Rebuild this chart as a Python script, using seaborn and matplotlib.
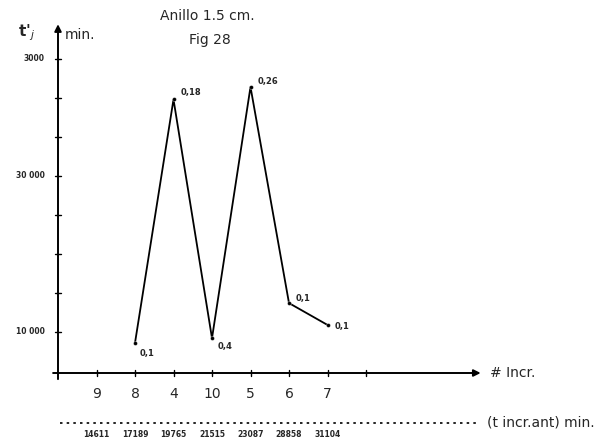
import numpy as np
import pandas as pd
import seaborn as sns
import matplotlib.pyplot as plt

# increment numbers along the x axis, in drawn order
incr_labels = ['9', '8', '4', '10', '5', '6', '7']
# cumulative time of the previous increment (min), second scale under the axis
t_prev_labels = ['14611', '17189', '19765', '21515', '23087', '28858', '31104']

# plotted increments and their t'j values (min)
pts_incr = ['8', '4', '10', '5', '6', '7']
pts_tj = [9300, 24900, 9600, 25700, 11850, 10450]
pts_notes = ['0,1', '0,18', '0,4', '0,26', '0,1', '0,1']

# y ticks as hand drawn
ytick_vals = [10000, 20000, 27500]
ytick_text = ['10 000', '30 000', '3000']

sns.set_style('white')
plt.rcParams['font.family'] = ['DejaVu Sans']

fig = plt.figure(figsize=(6.06, 4.45), dpi=100)
ax = fig.add_axes([58 / 606, 72 / 445, 423.5 / 606, 350 / 445])

pos = {lab: i + 1 for i, lab in enumerate(incr_labels)}
df = pd.DataFrame({'x': [pos[p] for p in pts_incr], 'tj': pts_tj})

sns.lineplot(data=df, x='x', y='tj', sort=False, color='black', lw=1.3, ax=ax)
sns.scatterplot(data=df, x='x', y='tj', color='black', s=8, ax=ax, zorder=3)

offs = [(3, -8), (5, 5), (4, -6), (5, 4), (5, 3), (5, -1)]
for (xx, yy), note, o in zip(zip(df['x'], df['tj']), pts_notes, offs):
    ax.annotate(note, (xx, yy), xytext=o, textcoords='offset points',
                fontsize=6, fontweight='bold', va='center', ha='left')

ax.set_xlim(0, 11)
ax.set_ylim(7370, 29800)
for s in ax.spines.values():
    s.set_visible(False)
ax.set_xlabel('')
ax.set_ylabel('')
ax.set_xticks([])
ax.set_yticks([])

# hand style axes with arrows
ax.annotate('', xy=(11.05, 7370), xytext=(-0.2, 7370), xycoords='data',
            arrowprops=dict(arrowstyle='-|>', color='black', lw=1.4), annotation_clip=False)
ax.annotate('', xy=(0, 29900), xytext=(0, 6800), xycoords='data',
            arrowprops=dict(arrowstyle='-|>', color='black', lw=1.4), annotation_clip=False)

# tick marks and labels on x
for i, lab in enumerate(incr_labels):
    ax.plot([i + 1, i + 1], [7170, 7570], color='black', lw=1, clip_on=False)
    ax.text(i + 1, 6000, lab, ha='center', va='center', fontsize=10)
ax.plot([8, 8], [7170, 7570], color='black', lw=1, clip_on=False)

# tick marks on y every 2500, labels as drawn
for v in np.arange(10000, 30000, 2500):
    ax.plot([-0.07, 0.07], [v, v], color='black', lw=1, clip_on=False)
for v, t in zip(ytick_vals, ytick_text):
    ax.text(-0.35, v, t, ha='right', va='center', fontsize=5.5, fontweight='bold')

# second scale: time of previous increment
ax.plot([0.05, 10.9], [4150, 4150], color='black', lw=1.2, ls=(0, (1.5, 2.5)), clip_on=False)
for i, t in enumerate(t_prev_labels):
    ax.text(i + 1, 3450, t, ha='center', va='center', fontsize=5.5, fontweight='bold')
fig.text(487 / 606, 1 - 423 / 445, '(t incr.ant) min.', fontsize=10, va='center', ha='left')

fig.text(490 / 606, 1 - 373 / 445, '# Incr.', fontsize=10, va='center', ha='left')
fig.text(207 / 606, 1 - 16 / 445, 'Anillo 1.5 cm.', fontsize=10, ha='center', va='center')
fig.text(210 / 606, 1 - 40 / 445, 'Fig 28', fontsize=10, ha='center', va='center')
fig.text(27 / 606, 1 - 33 / 445, "t'$_j$", fontsize=11, ha='center', va='center', fontweight='bold')
fig.text(65 / 606, 1 - 35 / 445, 'min.', fontsize=10, ha='left', va='center')

fig.savefig('out.png', dpi=100)
